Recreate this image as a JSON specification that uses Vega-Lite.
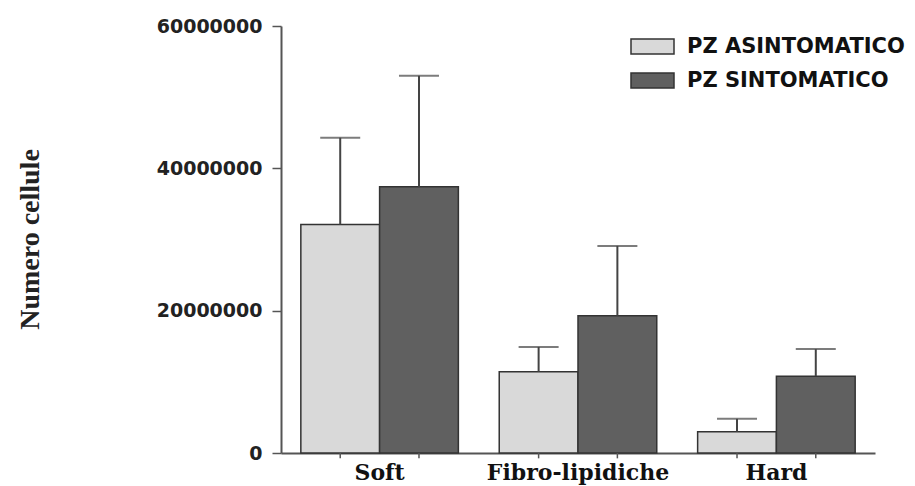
{
  "$schema": "https://vega.github.io/schema/vega-lite/v6.json",
  "width": 594,
  "height": 427,
  "autosize": {"type": "none"},
  "padding": {"left": 281, "top": 26, "right": 40, "bottom": 33},
  "background": "white",
  "config": {"view": {"stroke": null}},
  "data": {
    "values": [
      {"cat": "Soft", "group": "PZ ASINTOMATICO", "value": 32100000, "err": 44300000},
      {"cat": "Soft", "group": "PZ SINTOMATICO", "value": 37400000, "err": 53000000},
      {"cat": "Fibro-lipidiche", "group": "PZ ASINTOMATICO", "value": 11400000, "err": 14900000},
      {"cat": "Fibro-lipidiche", "group": "PZ SINTOMATICO", "value": 19300000, "err": 29100000},
      {"cat": "Hard", "group": "PZ ASINTOMATICO", "value": 3000000, "err": 4800000},
      {"cat": "Hard", "group": "PZ SINTOMATICO", "value": 10800000, "err": 14600000}
    ]
  },
  "encoding": {
    "x": {
      "field": "cat", "type": "nominal",
      "sort": ["Soft", "Fibro-lipidiche", "Hard"],
      "scale": {"paddingInner": 0.206, "paddingOuter": 0.1},
      "axis": {
        "title": null, "labelAngle": 0, "ticks": false,
        "domainColor": "#555", "domainWidth": 2,
        "labelFont": "DejaVu Serif", "labelFontWeight": "bold", "labelFontSize": 22,
        "labelColor": "#111", "labelPadding": 9, "labelLimit": 400
      }
    },
    "xOffset": {"field": "group", "type": "nominal", "sort": ["PZ ASINTOMATICO", "PZ SINTOMATICO"]}
  },
  "layer": [
    {
      "mark": {"type": "bar", "stroke": "#333", "strokeWidth": 1.5},
      "encoding": {
        "y": {
          "field": "value", "type": "quantitative",
          "scale": {"domain": [0, 60000000], "nice": false},
          "axis": {
            "title": "Numero cellule",
            "values": [0, 20000000, 40000000, 60000000],
            "format": "d", "grid": false,
            "domainColor": "#555", "domainWidth": 2,
            "tickColor": "#555", "tickWidth": 1.5, "tickSize": 9,
            "labelFont": "DejaVu Sans", "labelFontWeight": "bold", "labelFontSize": 19,
            "labelColor": "#222", "labelPadding": 10,
            "titleFont": "Liberation Serif", "titleFontWeight": "bold", "titleFontSize": 28,
            "titleColor": "#222", "titleX": -251, "titleY": 213, "titleAngle": -90,
            "titleAlign": "center", "titleBaseline": "middle"
          }
        },
        "color": {
          "field": "group", "type": "nominal",
          "scale": {"domain": ["PZ ASINTOMATICO", "PZ SINTOMATICO"], "range": ["#d9d9d9", "#606060"]},
          "legend": {
            "title": null, "orient": "none", "legendX": 349, "legendY": -2,
            "symbolType": "M-1,-0.35H1V0.35H-1Z", "symbolSize": 1849,
            "symbolStrokeColor": "#333", "symbolStrokeWidth": 1.5,
            "labelFont": "DejaVu Sans", "labelFontWeight": "bold", "labelFontSize": 21,
            "labelColor": "#111", "rowPadding": -9, "labelOffset": 12, "labelLimit": 400
          }
        }
      }
    },
    {
      "mark": {"type": "rule", "color": "#444", "strokeWidth": 2},
      "encoding": {
        "y": {"field": "value", "type": "quantitative"},
        "y2": {"field": "err"}
      }
    },
    {
      "mark": {"type": "tick", "color": "#444", "thickness": 2, "size": 40, "orient": "horizontal"},
      "encoding": {
        "y": {"field": "err", "type": "quantitative"}
      }
    },
    {
      "mark": {"type": "rule", "color": "#555", "strokeWidth": 1.5},
      "encoding": {
        "y": {"datum": 0, "type": "quantitative"},
        "y2": {"datum": -750000}
      }
    }
  ]
}
